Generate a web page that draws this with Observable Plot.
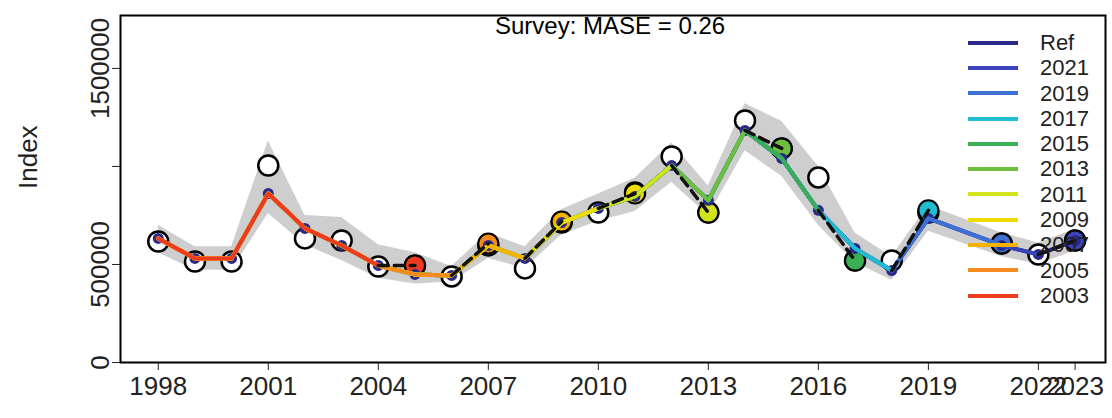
<!DOCTYPE html>
<html><head><meta charset="utf-8">
<script src="https://cdn.jsdelivr.net/npm/d3@7"></script>
<script src="https://cdn.jsdelivr.net/npm/@observablehq/plot@0.6"></script>
<style>
body{margin:0;background:#fff;font-family:"Liberation Sans",Arial,sans-serif}
#wrap{position:relative;width:1112px;height:418px}
#title{position:absolute;left:495px;top:12px;font-size:24px}
#legend{position:absolute;left:968px;top:30px;font-size:22px;line-height:25.3px;color:#222}
#legend div{display:flex;align-items:center}
#legend span.l{display:inline-block;width:50px;height:4px;margin-right:22px}
</style></head>
<body><div id="wrap"><div id="chart"></div><div id="title">Survey: MASE = 0.26</div><div id="legend"></div></div>
<script>
const years = [1998,1999,2000,2001,2002,2003,2004,2005,2006,2007,2008,2009,2010,2011,2012,2013,2014,2015,2016,2017,2018,2019,2021,2022,2023];
const obs   = [617e3,515e3,515e3,1005e3,633e3,622e3,490e3,495e3,439e3,597e3,480e3,714e3,765e3,867e3,1051e3,765e3,1235e3,1092e3,944e3,520e3,520e3,765e3,607e3,551e3,622e3];
const fit   = [633e3,531e3,531e3,862e3,684e3,597e3,495e3,449e3,444e3,597e3,531e3,714e3,786e3,847e3,1005e3,827e3,1184e3,1041e3,776e3,582e3,469e3,735e3,597e3,551e3,622e3];
const bandLo= [560e3,470e3,470e3,760e3,600e3,520e3,430e3,400e3,410e3,530e3,480e3,650e3,720e3,770e3,920e3,750e3,1080e3,950e3,700e3,510e3,420e3,670e3,540e3,500e3,570e3];
const bandHi= [700e3,590e3,590e3,1130e3,750e3,740e3,600e3,560e3,490e3,660e3,590e3,780e3,860e3,940e3,1120e3,900e3,1320e3,1230e3,1000e3,660e3,540e3,800e3,660e3,610e3,680e3];
const peels = [2021,2019,2017,2015,2013,2011,2009,2007,2005,2003];
const peelColors = ["#3a44b8","#3d72d4","#22bcd0","#3aae52","#6fbf3f","#d2e21c","#f0dc00","#f5b300","#f58a1e","#ee3a1e"];
const predYears = [2023,2021,2019,2017,2015,2013,2011,2009,2007,2005];
const predVals  = [622e3,607e3,776e3,520e3,1092e3,765e3,862e3,719e3,607e3,495e3];
const refColor = "#2b2a8a";
const xTicks = [1998,2001,2004,2007,2010,2013,2016,2019,2022,2023];
const yTicks = [0,500000,1000000,1500000];

const rows = years.map((y,i)=>({year:y,obs:obs[i],fit:fit[i],lo:bandLo[i],hi:bandHi[i]}));
const peelRows = [], dashRows = [], predRows = [];
peels.forEach((p,k)=>{
  const idx = years.findIndex(y=>y>p);
  rows.slice(0,idx+1).forEach(r=>peelRows.push({peel:p,year:r.year,v:r.fit}));
  const last = rows[idx];
  dashRows.push({peel:p,year:last.year,v:last.fit},{peel:p,year:predYears[k],v:predVals[k]});
  predRows.push({peel:p,year:predYears[k],v:predVals[k],c:peelColors[k]});
});
const colorOf = Object.fromEntries(peels.map((p,k)=>[p,peelColors[k]]));
const yFmt = d=>d===1000000?"":String(d);

const chart = Plot.plot({
  width:1112, height:418,
  marginLeft:120, marginRight:7, marginTop:15, marginBottom:56,
  style:{fontFamily:"Liberation Sans, Arial, sans-serif", fontSize:"26px", color:"#222"},
  x:{domain:[1996.97,2023.83], ticks:xTicks, tickFormat:d=>String(d), label:null, tickSize:8, tickPadding:6},
  y:{domain:[0,1770000], label:null},
  marks:[
    Plot.areaY(rows,{x:"year",y1:"lo",y2:"hi",fill:"#bdbdbd",fillOpacity:0.75}),
    Plot.dot(rows,{x:"year",y:"obs",r:10,fill:"white",stroke:"black",strokeWidth:2.5}),
    Plot.dot(predRows,{x:"year",y:"v",r:10,fill:"c",stroke:"black",strokeWidth:2}),
    Plot.line(rows,{x:"year",y:"fit",stroke:refColor,strokeWidth:4}),
    Plot.dot(rows,{x:"year",y:"fit",r:5.5,fill:refColor}),
    Plot.line(peelRows,{x:"year",y:"v",z:"peel",stroke:d=>colorOf[d.peel],strokeWidth:4}),
    Plot.line(dashRows,{x:"year",y:"v",z:"peel",stroke:"#111",strokeWidth:3.5,strokeDasharray:"10,6"}),
    Plot.axisY({ticks:yTicks, tickFormat:yFmt, tickRotate:-90, tickSize:8, anchor:"left", tickPadding:4, fontSize:26}),
    Plot.frame({stroke:"black",strokeWidth:2}),
    Plot.text(["Index"],{frameAnchor:"left",dx:-92,rotate:-90,fontSize:26})
  ]
});
document.getElementById("chart").append(chart);

const legend = document.getElementById("legend");
[["Ref",refColor],...peels.map((p,k)=>[String(p),peelColors[k]])].forEach(([t,c])=>{
  const d=document.createElement("div");
  d.innerHTML=`<span class="l" style="background:${c}"></span>${t}`;
  legend.append(d);
});
</script></body></html>
